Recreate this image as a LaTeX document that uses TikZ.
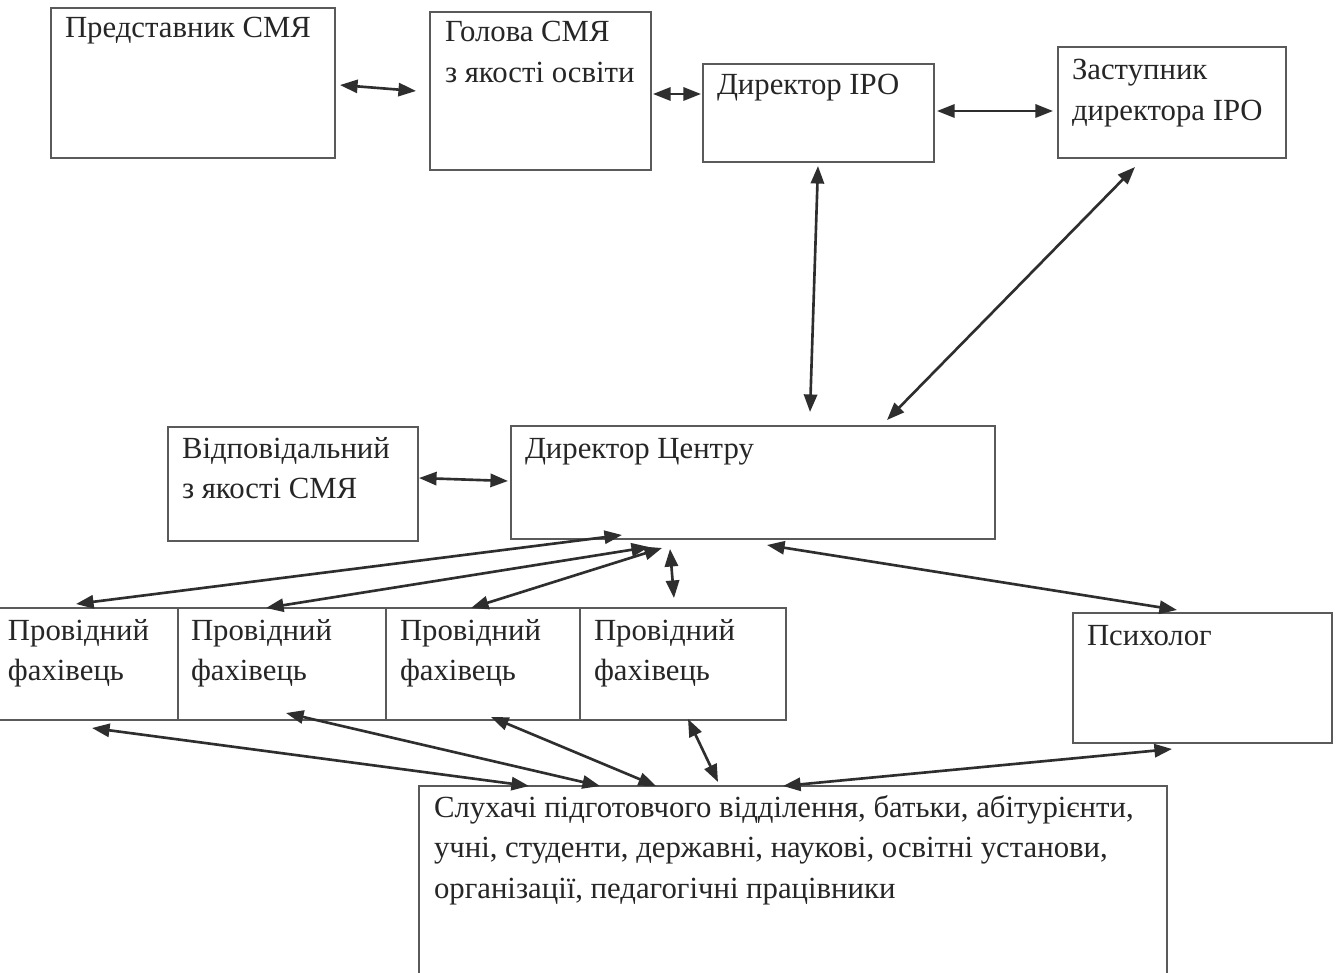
\documentclass[tikz,border=0pt]{standalone}
\usepackage{fontspec}
\setmainfont{Liberation Serif}
\usetikzlibrary{arrows.meta,calc}
\newdimen\pxu \pxu=0.02cm
\newcommand\bx[5]{\parbox[c][#2\pxu][t]{#1\pxu}{\leftskip=#4\pxu\rightskip=0pt plus 1fil\parindent=0pt\rule{0pt}{#3\pxu}#5}}
\definecolor{boxc}{HTML}{5A5A5A}
\definecolor{txtc}{HTML}{262626}
\definecolor{arrc}{HTML}{2E2E2E}
\begin{document}
\begin{tikzpicture}[x=0.02cm,y=-0.02cm,
  box/.style={draw=boxc, line width=0.7pt, inner sep=0pt, outer sep=0pt, anchor=north west,
    font=\fontsize{17.5}{23.2}\selectfont, text=txtc},
  link/.style={draw=arrc, line width=1.5pt, arrows={Triangle[length=10pt,width=7.5pt]-Triangle[length=10pt,width=7.5pt]}}]
\useasboundingbox (0,0) rectangle (1336,973);
\fill[white] (0,0) rectangle (1336,973);
% boxes
\node[box] (pred) at (51,8) {\bx{284}{150}{30}{14}{Представник СМЯ}};
\node[box] (golova) at (430,12) {\bx{221}{158}{30}{15}{Голова СМЯ\\з якості освіти}};
\node[box] (diripo) at (703,64) {\bx{231}{98}{31}{14}{Директор ІРО}};
\node[box] (zast) at (1058,47) {\bx{228}{111}{33}{14}{Заступник\\директора ІРО}};
\node[box] (vidp) at (168,427) {\bx{250}{114}{31}{14}{Відповідальний\\з якості СМЯ}};
\node[box] (dc) at (511,426) {\bx{484}{113}{32}{14}{Директор Центру}};
\node[box] (prov1) at (-20,608) {\bx{198}{112}{32}{28}{Провідний\\фахівець}};
\node[box] (prov2) at (178,608) {\bx{208}{112}{32}{13}{Провідний\\фахівець}};
\node[box] (prov3) at (386,608) {\bx{194}{112}{32}{14}{Провідний\\фахівець}};
\node[box] (prov4) at (580,608) {\bx{206}{112}{32}{14}{Провідний\\фахівець}};
\node[box] (psy) at (1073,613) {\bx{259}{130}{32}{14}{Психолог}};
\node[box] (sluh) at (419,786) {\bx{748}{220}{31}{15}{Слухачі підготовчого відділення, батьки, абітурієнти,\\учні, студенти, державні, наукові, освітні установи,\\організації, педагогічні працівники}};
% connectors
\draw[link] ($(pred.north east)+(5,77)$) -- ($(golova.north west)+(-14,79)$);
\draw[link] ($(golova.north east)+(2,82)$) -- ($(diripo.north west)+(-2,30)$);
\draw[link] ($(diripo.north east)+(3,47)$) -- ($(zast.north west)+(-5,64)$);
\draw[link] ($(diripo.south west)+(115,4)$) -- ($(dc.north west)+(299,-14)$);
\draw[link] ($(zast.south west)+(77,9)$) -- ($(dc.north west)+(376,-6)$);
\draw[link] ($(vidp.north east)+(1,51)$) -- ($(dc.north west)+(-3,55)$);
\draw[link] ($(dc.south west)+(111,-4)$) -- ($(prov1.north west)+(96,-4)$);
\draw[link] ($(dc.south west)+(138,8)$) -- ($(prov2.north west)+(88,0)$);
\draw[link] ($(dc.south west)+(151,9)$) -- ($(prov3.north west)+(85,0)$);
\draw[link] ($(dc.south west)+(159,10)$) -- ($(prov4.north west)+(94,-10)$);
\draw[link] ($(dc.south west)+(256,6)$) -- ($(psy.north west)+(104,-3)$);
\draw[link] ($(prov1.south west)+(112,8)$) -- ($(sluh.north west)+(110,0)$);
\draw[link] ($(prov2.south west)+(108,-7)$) -- ($(sluh.north west)+(181,0)$);
\draw[link] ($(prov3.south west)+(105,-3)$) -- ($(sluh.north west)+(237,0)$);
\draw[link] ($(prov4.south west)+(108,-1)$) -- ($(sluh.north west)+(299,-4)$);
\draw[link] ($(psy.south west)+(99,6)$) -- ($(sluh.north west)+(364,0)$);
\end{tikzpicture}
\end{document}
